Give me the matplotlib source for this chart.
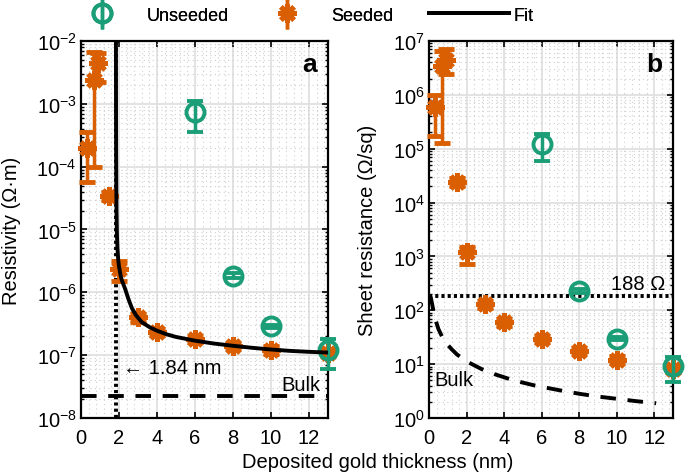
import numpy as np
import matplotlib
matplotlib.use('Agg')
import matplotlib.pyplot as plt
from matplotlib.ticker import MultipleLocator, LogLocator, NullFormatter
from matplotlib.legend_handler import HandlerErrorbar

plt.rcParams['font.family'] = ['Liberation Sans', 'DejaVu Sans']
plt.rcParams['mathtext.fontset'] = 'custom'
plt.rcParams['mathtext.rm'] = 'Liberation Sans'
plt.rcParams['mathtext.it'] = 'Liberation Sans:italic'
plt.rcParams['mathtext.bf'] = 'Liberation Sans:bold'

GREEN = '#1b9e77'
ORANGE = '#d95f02'
FS = 14.5

# seeded samples
x_seed = [0.3, 0.7, 0.9, 1.5, 2, 3, 4, 6, 8, 10, 13]
rho_seed = [2.0e-4, 2.4e-3, 4.5e-3, 3.4e-5, 2.35e-6, 4.0e-7, 2.35e-7, 1.78e-7, 1.4e-7, 1.23e-7, 1.1e-7]
rho_seed_lo = [5.6e-5, 9.8e-5, 2.2e-3, 3.0e-5, 1.5e-6, 3.4e-7, 2.1e-7, 1.6e-7, 1.3e-7, 1.05e-7, 1.0e-7]
rho_seed_hi = [3.5e-4, 6.8e-3, 6.5e-3, 3.9e-5, 3.2e-6, 4.6e-7, 2.6e-7, 1.95e-7, 1.5e-7, 1.4e-7, 1.2e-7]
rs_seed = [6.0e5, 3.5e6, 4.5e6, 2.4e4, 1.2e3, 1.3e2, 60, 29.5, 17.8, 12, 8.1]
rs_seed_lo = [1.7e5, 1.3e5, 2.4e6, 2.0e4, 7.2e2, 1.1e2, 52, 26, 16, 10.5, 7.0]
rs_seed_hi = [1.0e6, 6.5e6, 7.0e6, 2.8e4, 1.5e3, 1.5e2, 68, 33, 20, 14, 9.5]

# unseeded samples
x_un = [6, 8, 10, 13]
rho_un = [7.3e-4, 1.84e-6, 2.9e-7, 1.23e-7]
rho_un_lo = [3.5e-4, 1.7e-6, 2.75e-7, 6.0e-8]
rho_un_hi = [1.12e-3, 2.0e-6, 3.05e-7, 1.8e-7]
rs_un = [1.22e5, 2.3e2, 29.5, 9.3]
rs_un_lo = [5.8e4, 2.1e2, 27.5, 4.6]
rs_un_hi = [1.87e5, 2.5e2, 31.5, 13.5]

# fit curve
x_fit = [1.84, 1.845, 1.85, 1.86, 1.87, 1.89, 1.92, 1.96, 2.0, 2.08, 2.15, 2.25, 2.33, 2.5, 2.68,
         2.9, 3.2, 3.6, 4.0, 4.5, 5.0, 6.0, 7.0, 8.0, 9.0, 10.0, 11.0, 12.0, 13.0]
rho_fit = [1e-2, 1e-3, 2e-4, 5e-5, 2e-5, 9e-6, 5e-6, 3.3e-6, 2.6e-6, 1.9e-6, 1.55e-6, 1.3e-6, 1.12e-6,
           7.8e-7, 5.6e-7, 4.3e-7, 3.35e-7, 2.8e-7, 2.45e-7, 2.15e-7, 1.95e-7, 1.7e-7, 1.53e-7,
           1.41e-7, 1.31e-7, 1.23e-7, 1.17e-7, 1.13e-7, 1.1e-7]

rho_bulk = 2.27e-8
t_crit = 1.84
rs_limit = 188

# bulk sheet resistance curve
x_bulk = [0.05, 0.1, 0.2, 0.32, 0.5, 0.7, 0.94, 1.2, 1.5, 2.1, 2.8, 3.5, 4.5, 5.65, 7.0, 8.05, 9.0,
          10.1, 11.0, 12.1]
rs_bulk = [190, 170, 113, 71, 45, 32, 24, 19, 15, 10.8, 8.1, 6.5, 5.0, 4.0, 3.25, 2.8, 2.5,
           2.25, 2.06, 1.88]


def err(v, lo, hi):
    v = np.array(v)
    return [v - np.array(lo), np.array(hi) - v]


def noclip(cont):
    for a in cont.get_children():
        a.set_clip_on(False)


def style(ax, ymin, ymax):
    ax.set_xlim(0, 13)
    ax.set_ylim(ymin, ymax)
    ax.set_yscale('log')
    ax.xaxis.set_major_locator(MultipleLocator(2))
    ax.xaxis.set_minor_locator(MultipleLocator(0.4))
    ax.yaxis.set_major_locator(LogLocator(base=10, numticks=20))
    ax.yaxis.set_minor_locator(LogLocator(base=10, subs=np.arange(2, 10), numticks=20))
    ax.yaxis.set_minor_formatter(NullFormatter())
    ax.grid(True, which='major', color='#e0e0e0', lw=1.3, ls='-')
    ax.grid(True, which='minor', color='#cfcfcf', lw=0.8, ls=(0, (1, 3)))
    ax.set_axisbelow(True)
    ax.tick_params(which='both', direction='in', top=True, right=True, labelsize=FS)
    ax.tick_params(which='major', length=4, width=1.2)
    ax.tick_params(axis='y', which='minor', length=2.5, width=1)
    ax.tick_params(axis='x', which='minor', length=0)
    ax.tick_params(axis='x', pad=7)
    ax.tick_params(axis='y', pad=3)
    for s in ax.spines.values():
        s.set_linewidth(1.6)


fig = plt.figure(figsize=(6.85, 4.77), dpi=100)
ax1 = fig.add_axes([0.1182, 0.1216, 0.3606, 0.7904])
ax2 = fig.add_axes([0.6263, 0.1216, 0.3562, 0.7904])

seed_kw = dict(ls='none', marker=(8, 2, 0), ms=13, mew=3.5, color=ORANGE, ecolor=ORANGE,
               elinewidth=2.5, capsize=6, capthick=2.5, zorder=4)
un_kw = dict(ls='none', marker='o', ms=13, mew=2.8, mfc='none', mec=GREEN, ecolor=GREEN,
             elinewidth=2.5, capsize=6, capthick=2.5, zorder=5)
dots = (0, (0.8, 0.8))
dashes = (0, (4, 3))

# panel a
noclip(ax1.errorbar(x_seed, rho_seed, yerr=err(rho_seed, rho_seed_lo, rho_seed_hi), **seed_kw))
noclip(ax1.errorbar(x_un, rho_un, yerr=err(rho_un, rho_un_lo, rho_un_hi), **un_kw))
ax1.plot(x_fit, rho_fit, color='black', lw=2.8, zorder=6)
ax1.axhline(rho_bulk, color='black', lw=2.8, ls=dashes, zorder=3)
ax1.plot([t_crit, t_crit], [1e-8, 1e-2], color='black', lw=2.8, ls=dots, zorder=3)
style(ax1, 1e-8, 1e-2)
ax1.set_ylabel('Resistivity (Ω·m)', fontsize=FS, labelpad=11)
ax1.text(2.2, 6.3e-8, '← 1.84 nm', fontsize=FS, va='center', ha='left')
ax1.text(12.6, 3.4e-8, 'Bulk', fontsize=FS, va='center', ha='right')
ax1.text(0.955, 0.94, 'a', transform=ax1.transAxes, fontsize=19, fontweight='bold',
         ha='right', va='center')

# panel b
noclip(ax2.errorbar(x_seed, rs_seed, yerr=err(rs_seed, rs_seed_lo, rs_seed_hi), **seed_kw))
noclip(ax2.errorbar(x_un, rs_un, yerr=err(rs_un, rs_un_lo, rs_un_hi), **un_kw))
ax2.axhline(rs_limit, color='black', lw=2.8, ls=dots, zorder=3)
ax2.plot(x_bulk, rs_bulk, color='black', lw=2.8, ls=dashes, zorder=3)
style(ax2, 1e0, 1e7)
ax2.set_ylabel('Sheet resistance (Ω/sq)', fontsize=FS, labelpad=11)
ax2.text(12.6, 3.2e2, '188 Ω', fontsize=FS, va='center', ha='right')
ax2.text(0.3, 5.2, 'Bulk', fontsize=FS, va='center', ha='left')
ax2.text(0.955, 0.94, 'b', transform=ax2.transAxes, fontsize=19, fontweight='bold',
         ha='right', va='center')

fig.text(0.551, 0.03, 'Deposited gold thickness (nm)', fontsize=FS, ha='center', va='center')

# legend across top, equal-width columns like the original
h_un = ax1.errorbar([], [], yerr=[], **un_kw)
h_seed = ax1.errorbar([], [], yerr=[], **seed_kw)
h_fit, = ax1.plot([], [], color='black', lw=2.8)
eb = HandlerErrorbar(yerr_size=0.85, numpoints=1)
for h, lab, xs in [(h_un, 'Unseeded', 62), (h_seed, 'Seeded', 247), (h_fit, 'Fit', 429)]:
    leg = fig.legend([h], [lab], loc='center left', bbox_to_anchor=(xs / 685, 0.966),
                     frameon=False, fontsize=13, handlelength=4.43, handletextpad=0.25,
                     borderpad=0, borderaxespad=0, handler_map={type(h_un): eb})
    fig.add_artist(leg)

fig.savefig('out.png', dpi=100)
